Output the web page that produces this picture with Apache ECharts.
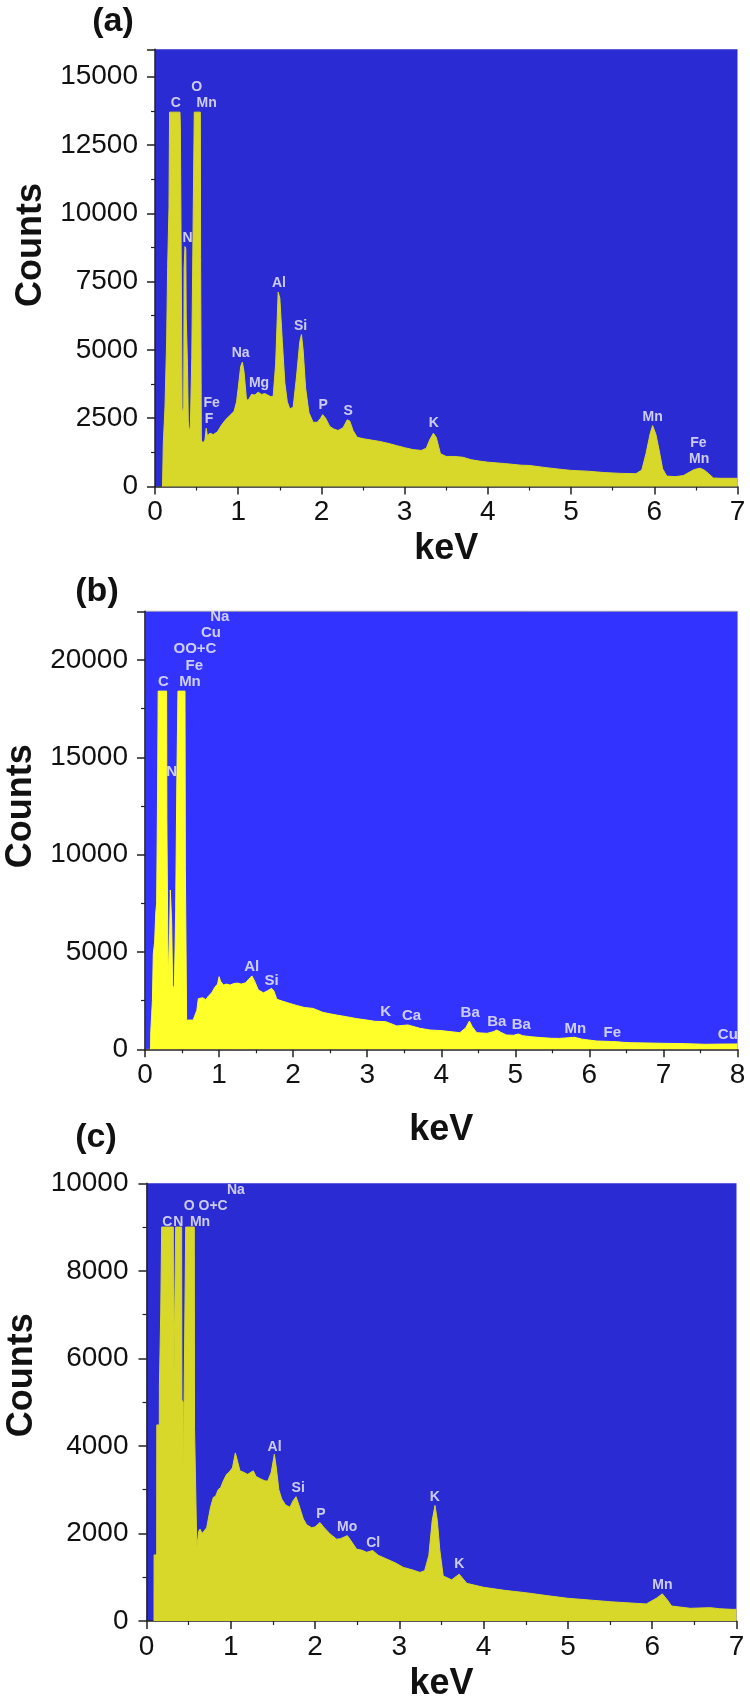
<!DOCTYPE html>
<html>
<head>
<meta charset="utf-8">
<script src="https://cdn.jsdelivr.net/npm/echarts@6/dist/echarts.min.js"></script>
<style>
  html, body { margin: 0; padding: 0; background: #fff; }
  #my_chart { width: 750px; height: 1702px; }
</style>
</head>
<body>
<div id="my_chart"></div>
<script>
  // (a) spectrum
  var kevA = [0.09, 0.10, 0.12, 0.14, 0.152, 0.168, 0.175, 0.30, 0.305, 0.313, 0.326, 0.345, 0.35, 0.36, 0.37, 0.375, 0.39, 0.40, 0.413,
    0.425, 0.442, 0.46, 0.472, 0.545, 0.548, 0.557, 0.577, 0.60, 0.615, 0.63, 0.66, 0.70, 0.75, 0.80, 0.85, 0.90, 0.95, 0.98, 1.0, 1.03,
    1.05, 1.07, 1.10, 1.13, 1.16, 1.20, 1.24, 1.28, 1.32, 1.39, 1.42, 1.45, 1.48, 1.50, 1.53, 1.56, 1.59, 1.62, 1.66, 1.70, 1.74, 1.76,
    1.78, 1.81, 1.85, 1.90, 1.95, 1.99, 2.015, 2.05, 2.10, 2.15, 2.20, 2.26, 2.31, 2.34, 2.38, 2.43, 2.50, 2.60, 2.70, 2.80, 2.90, 3.00,
    3.10, 3.20, 3.26, 3.30, 3.345, 3.38, 3.43, 3.50, 3.60, 3.70, 3.80, 3.90, 4.00, 4.20, 4.40, 4.50, 4.70, 4.90, 5.00, 5.20, 5.40, 5.60,
    5.78, 5.85, 5.90, 5.95, 5.98, 6.02, 6.06, 6.10, 6.15, 6.25, 6.35, 6.42, 6.48, 6.55, 6.60, 6.65, 6.71, 6.80, 7.00];
  var countsA = [0, 1590, 2920, 5360, 8050, 10200, 13700, 13700, 13170, 13170, 2680, 2900, 8000, 8780, 8700, 6200, 4500, 2400, 2000,
    2200, 4720, 10200, 13700, 13700, 8410, 1700, 1580, 1700, 2130, 1850, 1950, 1900, 2000, 2250, 2450, 2600, 2750, 3100, 3600, 4400,
    4550, 4200, 3150, 3200, 3370, 3350, 3450, 3370, 3400, 3290, 3300, 4500, 7110, 6900, 5300, 3800, 3100, 2840, 2900, 4000, 5300, 5560,
    5000, 3600, 2700, 2350, 2350, 2500, 2630, 2500, 2200, 2100, 2050, 2150, 2440, 2400, 2050, 1800, 1750, 1700, 1650, 1580, 1500, 1420,
    1350, 1320, 1400, 1700, 1950, 1800, 1200, 1100, 1100, 1070, 980, 930, 890, 840, 780, 770, 690, 620, 590, 560, 510, 480,
    470, 600, 1200, 1930, 2230, 1900, 1300, 650, 380, 360, 400, 520, 620, 670, 600, 480, 310, 300, 300];

  // (b) spectrum
  var kevB = [0.075, 0.078, 0.09, 0.10, 0.112, 0.13, 0.145, 0.157, 0.165, 0.172, 0.178, 0.292, 0.295, 0.306, 0.312, 0.328, 0.333, 0.342,
    0.355, 0.36, 0.373, 0.396, 0.405, 0.414, 0.43, 0.445, 0.54, 0.545, 0.555, 0.562, 0.65, 0.68, 0.70, 0.72, 0.745, 0.78, 0.82, 0.86,
    0.90, 0.945, 0.98, 1.0, 1.02, 1.06, 1.10, 1.15, 1.20, 1.25, 1.30, 1.36, 1.40, 1.444, 1.48, 1.53, 1.60, 1.65, 1.71, 1.74, 1.78,
    1.85, 1.95, 2.05, 2.15, 2.27, 2.40, 2.50, 2.60, 2.72, 2.85, 3.00, 3.10, 3.25, 3.40, 3.55, 3.71, 3.85, 4.00, 4.25, 4.33, 4.38, 4.42,
    4.48, 4.62, 4.70, 4.75, 4.80, 4.88, 4.98, 5.04, 5.10, 5.20, 5.35, 5.49, 5.60, 5.80, 5.90, 6.10, 6.30, 6.37, 6.45, 6.55, 7.00, 7.30,
    7.57, 7.80, 8.00];
  var countsB = [0, 900, 1800, 2500, 4900, 5500, 7000, 7500, 11000, 14500, 18400, 18400, 11870, 11870, 3560, 3560, 6000, 8180,
    8180, 6500, 3300, 3050, 5000, 7150, 13800, 18400, 18400, 9300, 9300, 1500, 1500, 1800, 2000, 2600, 2700, 2650, 2550, 2750,
    2900, 3200, 3350, 3730, 3500, 3300, 3350, 3300, 3380, 3400, 3350, 3420, 3600, 3770, 3500, 3050, 2900, 3000, 3130, 3000, 2570,
    2480, 2360, 2250, 2150, 2100, 1900, 1820, 1750, 1675, 1580, 1500, 1440, 1420, 1200, 1250, 1080, 990, 960, 853, 1100, 1450, 1150,
    853, 820, 900, 990, 880, 735, 720, 786, 700, 650, 600, 565, 560, 616, 520, 426, 400, 390, 360, 340, 307, 290,
    257, 270, 274];

  // (c) spectrum
  var kevC = [0.089, 0.09, 0.121, 0.122, 0.152, 0.153, 0.168, 0.169, 0.18, 0.318, 0.322, 0.34, 0.346, 0.417, 0.42, 0.435, 0.437, 0.445,
    0.447, 0.46, 0.465, 0.567, 0.57, 0.59, 0.597, 0.61, 0.62, 0.635, 0.66, 0.68, 0.714, 0.74, 0.76, 0.793, 0.82, 0.85, 0.88, 0.911,
    0.95, 0.98, 1.02, 1.054, 1.08, 1.109, 1.15, 1.20, 1.267, 1.30, 1.35, 1.406, 1.44, 1.48, 1.517, 1.54, 1.57, 1.604, 1.65, 1.702,
    1.74, 1.774, 1.80, 1.861, 1.90, 1.96, 2.00, 2.058, 2.10, 2.177, 2.256, 2.30, 2.383, 2.42, 2.494, 2.55, 2.612, 2.683, 2.75, 2.85,
    2.95, 3.047, 3.15, 3.245, 3.30, 3.35, 3.39, 3.423, 3.45, 3.48, 3.52, 3.62, 3.71, 3.80, 4.00, 4.25, 4.50, 4.75, 5.00, 5.25, 5.50,
    5.75, 5.93, 6.05, 6.12, 6.18, 6.23, 6.45, 6.69, 6.80, 6.94, 7.00];
  var countsC = [0, 1510, 1510, 4480, 4480, 5390, 5390, 7060, 9000, 9000, 5000, 5000, 9000, 9000, 5050, 5000, 2750, 2750,
    5300, 5300, 9000, 9000, 4400, 4400, 1680, 1700, 2050, 2100, 2000, 2050, 2130, 2400, 2600, 2825, 2850, 3000, 3050, 3200,
    3350, 3400, 3500, 3840, 3650, 3430, 3400, 3350, 3430, 3300, 3250, 3200, 3200, 3400, 3810, 3500, 3000, 2790, 2650, 2600,
    2750, 2840, 2700, 2330, 2200, 2130, 2150, 2250, 2150, 1990, 1870, 1880, 1950, 1850, 1640, 1620, 1570, 1610, 1500, 1415,
    1330, 1225, 1170, 1110, 1150, 1500, 2300, 2640, 2300, 1620, 1030, 940, 1070, 860, 770, 700, 646, 580, 518, 480, 441,
    410, 390, 520, 620, 480, 342, 290, 305, 280, 266, 266];

  // element tags: [text, keV, counts]
  var tagsA = [['O', 0.50, 14600], ['C', 0.25, 14030], ['Mn', 0.62, 14030], ['N', 0.39, 9080], ['Al', 1.49, 7460],
    ['Si', 1.75, 5880], ['Na', 1.03, 4870], ['Mg', 1.25, 3780], ['Fe', 0.68, 3040], ['F', 0.65, 2460], ['P', 2.02, 2980],
    ['S', 2.32, 2770], ['K', 3.35, 2310], ['Mn', 5.98, 2550], ['Fe', 6.53, 1600], ['Mn', 6.54, 1000]];
  var tagsB = [['Na', 1.01, 22190], ['Cu', 0.89, 21370], ['OO+C', 0.675, 20550], ['Fe', 0.665, 19710], ['C', 0.247, 18880],
    ['Mn', 0.607, 18880], ['N', 0.36, 14260], ['Al', 1.44, 4240], ['Si', 1.71, 3520], ['K', 3.25, 1930], ['Ca', 3.60, 1710],
    ['Ba', 4.39, 1880], ['Ba', 4.75, 1420], ['Ba', 5.08, 1250], ['Mn', 5.81, 1030], ['Fe', 6.31, 850], ['Cu', 7.87, 735]];
  var tagsC = [['C', 0.247, 9110], ['N', 0.377, 9110], ['Mn', 0.635, 9110], ['O', 0.508, 9470], ['O+C', 0.79, 9470],
    ['Na', 1.06, 9840], ['Al', 1.52, 3980], ['Si', 1.80, 3030], ['P', 2.07, 2440], ['Mo', 2.38, 2150], ['Cl', 2.69, 1790],
    ['K', 3.42, 2820], ['K', 3.71, 1290], ['Mn', 6.12, 820]];

  var yMaxA = 16000, yStepA = 2500;
  var yMaxB = 22500, yStepB = 5000;
  var yMaxC = 10000, yStepC = 2000;

  var FONT = 'Liberation Sans, Arial, sans-serif';

  function pairs(k, c) {
    return k.map(function (v, i) { return [v, c[i]]; });
  }

  function xAx(gi, max, gap) {
    return {
      gridIndex: gi, type: 'value', min: 0, max: max, interval: 1,
      name: 'keV', nameLocation: 'middle', nameGap: gap,
      nameTextStyle: { fontSize: 36, fontWeight: 'bold', color: '#111', fontFamily: FONT },
      axisLine: { onZero: false, lineStyle: { color: '#222', width: 1.5 } },
      axisTick: { length: 8, lineStyle: { color: '#222', width: 1.5 } },
      minorTick: { show: true, splitNumber: 2, length: 4, lineStyle: { color: '#222', width: 1.2 } },
      axisLabel: { fontSize: 28, color: '#111', margin: 12, fontFamily: FONT },
      splitLine: { show: false }
    };
  }

  function yAx(gi, max, step, gap, lift, margin) {
    return {
      gridIndex: gi, type: 'value', min: 0, max: max, interval: step,
      name: 'Counts', nameLocation: 'middle', nameGap: gap, nameRotate: 90,
      nameTextStyle: { fontSize: 36, fontWeight: 'bold', color: '#111', fontFamily: FONT, padding: [0, 0, 0, lift] },
      axisLine: { show: true, onZero: false, lineStyle: { color: '#222', width: 1.5 } },
      axisTick: { show: true, length: 8, lineStyle: { color: '#222', width: 1.5 } },
      minorTick: { show: true, splitNumber: 2, length: 4, lineStyle: { color: '#222', width: 1.2 } },
      axisLabel: {
        fontSize: 28, color: '#111', margin: margin, fontFamily: FONT, showMaxLabel: max % step === 0,
        formatter: function (v) { return String(v); }
      },
      splitLine: { show: false }
    };
  }

  function spectrum(gi, k, c, color) {
    return {
      type: 'line', xAxisIndex: gi, yAxisIndex: gi, data: pairs(k, c),
      showSymbol: false, symbol: 'none', sampling: null, silent: true,
      lineStyle: { color: color, width: 1 },
      areaStyle: { color: color, opacity: 1 }
    };
  }

  function tags(gi, list, size) {
    return {
      type: 'scatter', xAxisIndex: gi, yAxisIndex: gi, symbolSize: 0, silent: true, z: 5,
      data: list.map(function (t) { return { name: t[0], value: [t[1], t[2]] }; }),
      label: {
        show: true, position: 'inside', formatter: '{b}', color: '#f4f4ff',
        fontSize: size, fontWeight: 'bold', fontFamily: 'Liberation Sans Narrow, Liberation Sans, Arial, sans-serif'
      }
    };
  }

  var my_chart = echarts.init(document.getElementById('my_chart'), null, { renderer: 'canvas' });

  function panelTitle(txt, x, y) {
    return {
      type: 'text', x: x, y: y,
      style: { text: txt, font: 'bold 34px ' + FONT, fill: '#111', align: 'center', verticalAlign: 'middle' }
    };
  }

  function gridBox(left, top, width, height, bg, border) {
    return {
      left: left, top: top, width: width, height: height,
      show: true, backgroundColor: bg, borderWidth: border ? 1 : 0, borderColor: border || 'transparent',
      containLabel: false, outerBoundsMode: 'none'
    };
  }

  my_chart.setOption({
    animation: false,
    backgroundColor: '#ffffff',
    grid: [
      gridBox(155, 49.3, 582.5, 437.2, '#2B2BD3'),
      gridBox(145, 611.3, 592.5, 438, '#3333FF', '#9a9ab8'),
      gridBox(146.5, 1183.3, 590, 437.7, '#2B2BD3')
    ],
    xAxis: [xAx(0, 7, 45), xAx(1, 8, 63), xAx(2, 7, 45)],
    yAxis: [
      yAx(0, yMaxA, yStepA, 100, 46, 17),
      yAx(1, yMaxB, yStepB, 105, 48, 17),
      yAx(2, yMaxC, yStepC, 97, 54, 18)
    ],
    graphic: [panelTitle('(a)', 113, 22), panelTitle('(b)', 97, 592), panelTitle('(c)', 96, 1138)],
    series: [
      spectrum(0, kevA, countsA, '#D8D82B'),
      spectrum(1, kevB, countsB, '#FFFF2A'),
      spectrum(2, kevC, countsC, '#D8D82B'),
      tags(0, tagsA, 14),
      tags(1, tagsB, 15),
      tags(2, tagsC, 14)
    ]
  });
</script>
</body>
</html>
